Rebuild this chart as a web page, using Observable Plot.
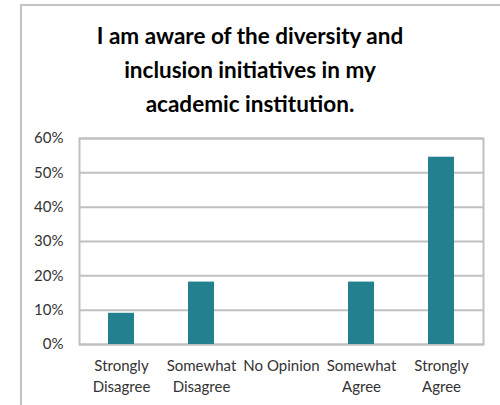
<!DOCTYPE html>
<html>
<head>
<meta charset="utf-8">
<script src="https://cdn.jsdelivr.net/npm/d3@7"></script>
<script src="https://cdn.jsdelivr.net/npm/@observablehq/plot@0.6"></script>
<style>
  html, body { margin: 0; padding: 0; background: #fff; }
  #wrap { position: relative; width: 500px; height: 405px; overflow: hidden; background: #fff; }
  #frame { position: absolute; left: 20px; top: 4px; width: 500px; height: 420px; border: 2px solid #c4c4c4; box-sizing: border-box; }
  #title { position: absolute; left: 0; top: 19px; width: 500px; text-align: center; font-family: Lato, "Open Sans", sans-serif; font-weight: bold; font-size: 22.5px; line-height: 34px; color: #000; }
  #chart { position: absolute; left: 0; top: 0; }
</style>
</head>
<body>
<div id="wrap">
  <div id="frame"></div>
  <div id="chart"></div>
  <div id="title">I am aware of the diversity and<br>inclusion initiatives in my<br>academic institution.</div>
</div>
<script>
const categories = ["Strongly\nDisagree", "Somewhat\nDisagree", "No Opinion", "Somewhat\nAgree", "Strongly\nAgree"];
const values = [0.0909, 0.1818, 0, 0.1818, 0.5455];
const yTicks = [0, 0.1, 0.2, 0.3, 0.4, 0.5, 0.6];

const data = categories.map((c, i) => ({category: c, value: values[i]}));

const chart = Plot.plot({
  width: 500,
  height: 405,
  marginTop: 138,
  marginBottom: 61,
  marginLeft: 79,
  marginRight: 17,
  style: {background: "transparent", fontFamily: "Lato, 'Open Sans', sans-serif", fontSize: "15px", color: "#404040"},
  x: {domain: categories, paddingInner: 0.68, paddingOuter: 0.34, label: null},
  y: {domain: [0, 0.6], label: null},
  marks: [
    Plot.ruleY(yTicks, {stroke: "#c0c0c0", strokeWidth: 2}),
    Plot.frame({stroke: "#c0c0c0", strokeWidth: 2}),
    Plot.barY(data, {x: "category", y: "value", fill: "#23808F"}),
    Plot.axisY({ticks: yTicks, tickFormat: d3.format(".0%"), tickSize: 0, tickPadding: 16, label: null, fontSize: 15, fill: "#333"}),
    Plot.axisX({tickSize: 0, tickPadding: 12, label: null, fontSize: 15, lineHeight: 1.4, fill: "#333"})
  ]
});
document.getElementById("chart").appendChild(chart);
</script>
</body>
</html>
